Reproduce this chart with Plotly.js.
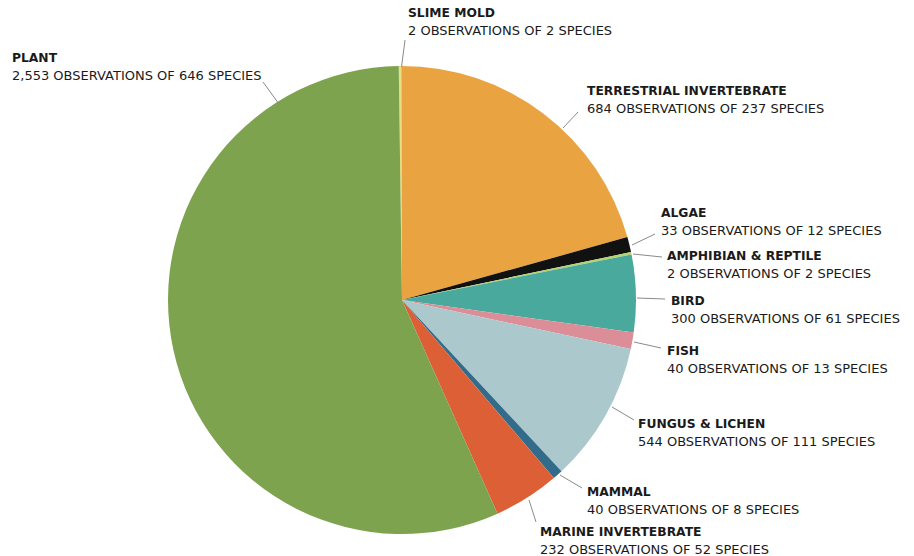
<!DOCTYPE html>
<html>
<head>
<meta charset="utf-8">
<script src="https://cdn.plot.ly/plotly-3.0.1.min.js"></script>
<style>html,body{margin:0;padding:0;background:#fff;}#chart{width:914px;height:556px;}</style>
</head>
<body>
<div id="chart"></div>
<script>
// ---- data ----
const categories = ['SLIME MOLD', 'TERRESTRIAL INVERTEBRATE', 'ALGAE', 'AMPHIBIAN & REPTILE', 'BIRD', 'FISH', 'FUNGUS & LICHEN', 'MAMMAL', 'MARINE INVERTEBRATE', 'PLANT'];
const observations = [2, 684, 33, 2, 300, 40, 544, 40, 232, 2553];
const species = [2, 237, 12, 2, 61, 13, 111, 8, 52, 646];
const sliceColors = ['#e8df80', '#e9a441', '#111111', '#b5d36e', '#49a99c', '#dc8e98', '#abc8cd', '#336b8a', '#dd5f35', '#7ea34f'];

// ---- label layout (pixels): text left x, baseline of line 1, leader line from/to ----
const labelPos = [
  {x: 408, y: 18, l: [405, 40, 401.5, 67]},
  {x: 587, y: 96, l: [578, 112, 563, 128]},
  {x: 661, y: 218, l: [655, 234, 632, 245]},
  {x: 667, y: 261, l: [633, 254, 662, 257]},
  {x: 671, y: 306, l: [637, 298, 665, 299]},
  {x: 667, y: 356, l: [634, 342, 661, 348]},
  {x: 638, y: 429, l: [612, 407, 634, 420]},
  {x: 587, y: 497, l: [560, 475, 582, 488]},
  {x: 540, y: 537, l: [529, 500, 536, 522]},
  {x: 12, y: 63, l: [263, 82, 279, 104]}
];

const W = 914, H = 556;
const px = v => v / W;
const py = v => 1 - v / H;
const cx = 402, cy = 300, R = 234;
const FS = 13, FS_BOLD = 12.3, LINE_GAP = 17.5, PADX = 2;

const annotations = [];
const shapes = [];
categories.forEach((c, i) => {
  const p = labelPos[i];
  annotations.push({
    xref: 'paper', yref: 'paper', x: px(p.x - PADX), y: py(p.y - 4.6),
    xanchor: 'left', yanchor: 'middle', showarrow: false,
    text: '<b>' + c.replace('&', '&amp;') + '</b>',
    font: {family: 'DejaVu Sans', size: FS_BOLD, color: '#1a1a1a'}
  });
  annotations.push({
    xref: 'paper', yref: 'paper', x: px(p.x - PADX), y: py(p.y + LINE_GAP - 4.8),
    xanchor: 'left', yanchor: 'middle', showarrow: false,
    text: observations[i].toLocaleString('en-US') + ' OBSERVATIONS OF ' + species[i] + ' SPECIES',
    font: {family: 'DejaVu Sans', size: FS, color: '#1a1a1a'}
  });
  shapes.push({
    type: 'line', xref: 'paper', yref: 'paper',
    x0: px(p.l[0]), y0: py(p.l[1]), x1: px(p.l[2]), y1: py(p.l[3]),
    line: {color: '#8a8a8a', width: 1}
  });
});

const trace = {
  type: 'pie',
  labels: categories,
  values: species,
  sort: false,
  direction: 'clockwise',
  rotation: -0.8,
  textinfo: 'none',
  hoverinfo: 'none',
  marker: {colors: sliceColors, line: {width: 0}},
  domain: {x: [px(cx - R), px(cx + R)], y: [py(cy + R), py(cy - R)]},
  showlegend: false
};

Plotly.newPlot('chart', [trace], {
  width: W, height: H,
  margin: {l: 0, r: 0, t: 0, b: 0},
  paper_bgcolor: '#ffffff',
  showlegend: false,
  annotations: annotations,
  shapes: shapes
}, {staticPlot: true, displayModeBar: false});
</script>
</body>
</html>
